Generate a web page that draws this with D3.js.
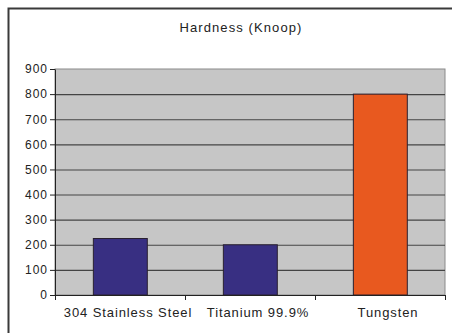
<!DOCTYPE html>
<html>
<head>
<meta charset="utf-8">
<script src="https://cdn.jsdelivr.net/npm/d3@7"></script>
<style>
  html, body { margin: 0; padding: 0; background: #ffffff; }
  svg { display: block; }
  text { font-family: "Liberation Sans", Arial, sans-serif; fill: #222; }
</style>
</head>
<body>
<script>
// Knoop hardness of three metals
const categories = ["304 Stainless Steel", "Titanium 99.9%", "Tungsten"];
const values = [225, 200, 800];
const barColors = ["#382f82", "#382f82", "#e8591f"];
const yTicks = [0, 100, 200, 300, 400, 500, 600, 700, 800, 900];
const title = "Hardness (Knoop)";

const W = 452, H = 333;
const plot = { left: 55, top: 69, right: 445, bottom: 295 };

const svg = d3.select("body").append("svg")
  .attr("width", W).attr("height", H);

// chart frame (open on the right and bottom)
svg.append("path")
  .attr("d", `M8.5,${H + 2} L8.5,8.5 L${W + 2},8.5`)
  .attr("fill", "none")
  .attr("stroke", "#3a3a3a")
  .attr("stroke-width", 2);

svg.append("text")
  .attr("x", 241).attr("y", 32)
  .attr("text-anchor", "middle")
  .attr("font-size", 13)
  .attr("letter-spacing", 1.1)
  .text(title);

const x = d3.scaleBand()
  .domain(categories)
  .range([plot.left, plot.right])
  .paddingInner(0).paddingOuter(0);

const y = d3.scaleLinear()
  .domain([0, 900])
  .range([plot.bottom, plot.top]);

// plot background
svg.append("rect")
  .attr("x", plot.left).attr("y", plot.top)
  .attr("width", plot.right - plot.left)
  .attr("height", plot.bottom - plot.top)
  .attr("fill", "#c6c6c6")
  .attr("stroke", "#8a8a8a")
  .attr("stroke-width", 1);

// horizontal gridlines
svg.append("g")
  .attr("transform", `translate(${plot.left},0)`)
  .call(d3.axisLeft(y)
    .tickValues(yTicks.filter(v => v > 0 && v < 900))
    .tickSize(-(plot.right - plot.left))
    .tickFormat(""))
  .call(g => g.select(".domain").remove())
  .call(g => g.selectAll("line").attr("stroke", "#444").attr("stroke-width", 1.1));

// bars
svg.append("g").selectAll("rect")
  .data(categories)
  .join("rect")
  .attr("x", d => x(d) + x.bandwidth() * 0.295)
  .attr("width", x.bandwidth() * 0.415)
  .attr("y", (d, i) => y(values[i]))
  .attr("height", (d, i) => y(0) - y(values[i]))
  .attr("fill", (d, i) => barColors[i])
  .attr("stroke", "#2a2030")
  .attr("stroke-width", 1);

// y axis
svg.append("g")
  .attr("transform", `translate(${plot.left},0)`)
  .call(d3.axisLeft(y).tickValues(yTicks).tickSize(5).tickSizeOuter(0).tickPadding(2))
  .call(g => g.select(".domain").attr("stroke", "#222"))
  .call(g => g.selectAll("line").attr("stroke", "#222"))
  .call(g => g.selectAll("text")
    .attr("font-size", 12)
    .attr("letter-spacing", 1)
    .attr("fill", "#222")
    .style("font-family", "'Liberation Sans', Arial, sans-serif"));

// x axis: tick marks at category boundaries
const edges = d3.scaleLinear().domain([0, categories.length]).range([plot.left, plot.right]);
svg.append("g")
  .attr("transform", `translate(0,${plot.bottom})`)
  .call(d3.axisBottom(edges).tickValues(d3.range(categories.length + 1)).tickSize(5).tickSizeOuter(0).tickFormat(""))
  .call(g => g.select(".domain").attr("stroke", "#222"))
  .call(g => g.selectAll("line").attr("stroke", "#222"));

// x axis: category labels
svg.append("g")
  .attr("transform", `translate(8,${plot.bottom})`)
  .call(d3.axisBottom(x).tickSize(0).tickPadding(13))
  .call(g => g.select(".domain").remove())
  .call(g => g.selectAll("text")
    .attr("font-size", 13)
    .attr("letter-spacing", 0.9)
    .attr("fill", "#222")
    .style("font-family", "'Liberation Sans', Arial, sans-serif"));
</script>
</body>
</html>
